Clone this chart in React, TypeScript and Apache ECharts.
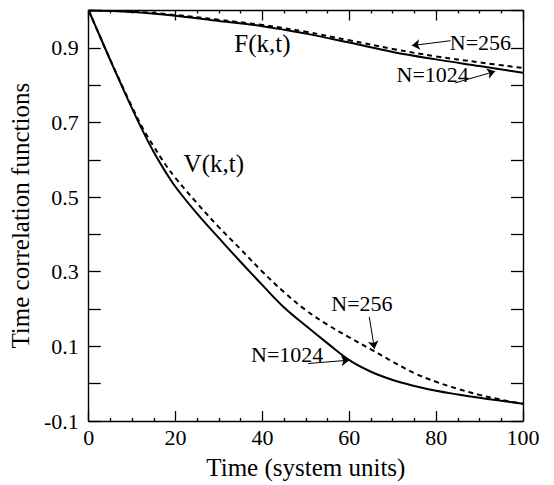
import React, { useEffect, useRef } from "react";
import * as echarts from "echarts";

// Time axis samples
const T_F = [0, 10, 20, 30, 40, 50, 60, 70, 80, 90, 100];
const F_N1024 = [1.0, 0.996, 0.986, 0.972, 0.958, 0.938, 0.914, 0.889, 0.869, 0.851, 0.833];
const F_N256 = [1.0, 0.997, 0.988, 0.975, 0.961, 0.943, 0.92, 0.897, 0.877, 0.861, 0.846];

const T_V = [0, 2.5, 5, 7.5, 10, 12.5, 15, 17.5, 20, 25, 30, 35, 40, 45, 50, 55, 60, 65, 70, 75, 80, 85, 90, 95, 100];
const V_N1024 = [1.0, 0.933, 0.866, 0.801, 0.737, 0.676, 0.62, 0.571, 0.527, 0.455, 0.39, 0.326, 0.264, 0.204, 0.155, 0.108, 0.063, 0.032, 0.01, -0.006, -0.019, -0.029, -0.038, -0.046, -0.054];
const V_N256 = [1.0, 0.933, 0.867, 0.803, 0.741, 0.683, 0.635, 0.59, 0.551, 0.483, 0.419, 0.36, 0.3, 0.245, 0.197, 0.158, 0.124, 0.092, 0.059, 0.028, 0.005, -0.014, -0.03, -0.043, -0.054];

const X_TICKS = [0, 20, 40, 60, 80, 100];
const Y_LABELS = ["-0.1", "0.1", "0.3", "0.5", "0.7", "0.9"];

// Annotation texts anchored in data coordinates [t, value]
const LABEL_TEXTS = ["F(k,t)", "V(k,t)", "N=256", "N=1024", "N=256", "N=1024"];
const LABEL_SIZES = [25, 25, 22, 22, 22, 22];
const LABEL_AT: number[][] = [
  [40.0, 0.911],
  [28.8, 0.589],
  [90.2, 0.915],
  [79.2, 0.829],
  [62.9, 0.215],
  [45.7, 0.078],
];
// Arrows: [from, to] in data coordinates, head at "to"
const ARROWS: number[][][] = [
  [[83.3, 0.919], [74.4, 0.906]],
  [[84.4, 0.806], [93.6, 0.837]],
  [[64.6, 0.179], [65.8, 0.093]],
  [[50.5, 0.054], [60.0, 0.063]],
];

const FONT = "Liberation Serif, Times New Roman, serif";

export default function App() {
  const ref = useRef<HTMLDivElement>(null);
  useEffect(() => {
    if (!ref.current) return;
    const chart = echarts.init(ref.current, null, { renderer: "svg" });
    const pair = (ts: number[], vs: number[]) => ts.map((t, i) => [t, vs[i]]);
    const axisCommon = {
      axisLine: { show: true, onZero: false, lineStyle: { color: "#000", width: 1.4 } },
      splitLine: { show: false },
    };
    const yFmt = (v: number) => {
      const k = Math.round(v * 10);
      const s = (k / 10).toFixed(1);
      return Y_LABELS.indexOf(s) >= 0 ? s : "";
    };
    const xFmt = (v: number) => (X_TICKS.indexOf(Math.round(v)) >= 0 ? String(Math.round(v)) : "");
    const tickStyle = { color: "#000", width: 1.3 };
    const option: any = {
      animation: false,
      backgroundColor: "#fff",
      grid: { left: 86, right: 31, top: 10.5, bottom: 60.5, containLabel: false },
      xAxis: [
        {
          type: "value",
          min: 0,
          max: 100,
          interval: 20,
          position: "bottom",
          ...axisCommon,
          axisTick: { show: true, inside: true, length: 10, lineStyle: tickStyle },
          minorTick: { show: true, splitNumber: 4, length: 3, lineStyle: tickStyle },
          axisLabel: { formatter: xFmt, color: "#000", fontSize: 22, fontFamily: FONT, margin: 5 },
          name: "Time (system units)",
          nameLocation: "middle",
          nameGap: 34,
          nameTextStyle: { color: "#000", fontSize: 25, fontFamily: FONT },
        },
        {
          type: "value",
          min: 0,
          max: 100,
          interval: 20,
          position: "top",
          ...axisCommon,
          axisTick: { show: true, inside: true, length: 10, lineStyle: tickStyle },
          minorTick: { show: true, splitNumber: 4, length: 3, lineStyle: tickStyle },
          axisLabel: { show: false },
        },
      ],
      yAxis: [
        {
          type: "value",
          min: -0.1,
          max: 1.0,
          interval: 0.1,
          position: "left",
          ...axisCommon,
          axisTick: { show: true, inside: true, length: 12, lineStyle: tickStyle },
          axisLabel: { formatter: yFmt, color: "#000", fontSize: 22, fontFamily: FONT, margin: 10 },
          name: "Time correlation functions",
          nameLocation: "middle",
          nameGap: 50,
          nameTextStyle: { color: "#000", fontSize: 25, fontFamily: FONT },
        },
        {
          type: "value",
          min: -0.1,
          max: 1.0,
          interval: 0.1,
          position: "right",
          ...axisCommon,
          axisTick: { show: true, inside: true, length: 12, lineStyle: tickStyle },
          axisLabel: { show: false },
        },
      ],
      series: [
        {
          type: "line",
          name: "F N=1024",
          data: pair(T_F, F_N1024),
          smooth: 0.4,
          showSymbol: false,
          lineStyle: { color: "#000", width: 2 },
        },
        {
          type: "line",
          name: "F N=256",
          data: pair(T_F, F_N256),
          smooth: 0.4,
          showSymbol: false,
          lineStyle: { color: "#000", width: 2, type: [5, 4] },
        },
        {
          type: "line",
          name: "V N=256",
          data: pair(T_V, V_N256),
          smooth: 0.4,
          showSymbol: false,
          lineStyle: { color: "#000", width: 2, type: [5, 4] },
        },
        {
          type: "line",
          name: "V N=1024",
          data: pair(T_V, V_N1024),
          smooth: 0.4,
          showSymbol: false,
          lineStyle: { color: "#000", width: 2 },
          markPoint: {
            silent: true,
            symbol: "circle",
            symbolSize: 1,
            itemStyle: { color: "rgba(0,0,0,0)" },
            label: { show: true, position: "inside", color: "#000", fontFamily: FONT },
            data: LABEL_AT.map((c, i) => ({
              coord: c,
              label: { formatter: LABEL_TEXTS[i], fontSize: LABEL_SIZES[i] },
            })),
          },
          markLine: {
            silent: true,
            symbol: ["none", "arrow"],
            symbolSize: 8,
            label: { show: false },
            lineStyle: { color: "#000", width: 1, type: "solid" },
            data: ARROWS.map((a) => [{ coord: a[0] }, { coord: a[1] }]),
          },
        },
      ],
    };
    chart.setOption(option);
    return () => chart.dispose();
  }, []);
  return (
    <div
      ref={ref}
      style={{ position: "absolute", left: 0, top: 0, width: 554, height: 485, background: "#fff" }}
    />
  );
}
